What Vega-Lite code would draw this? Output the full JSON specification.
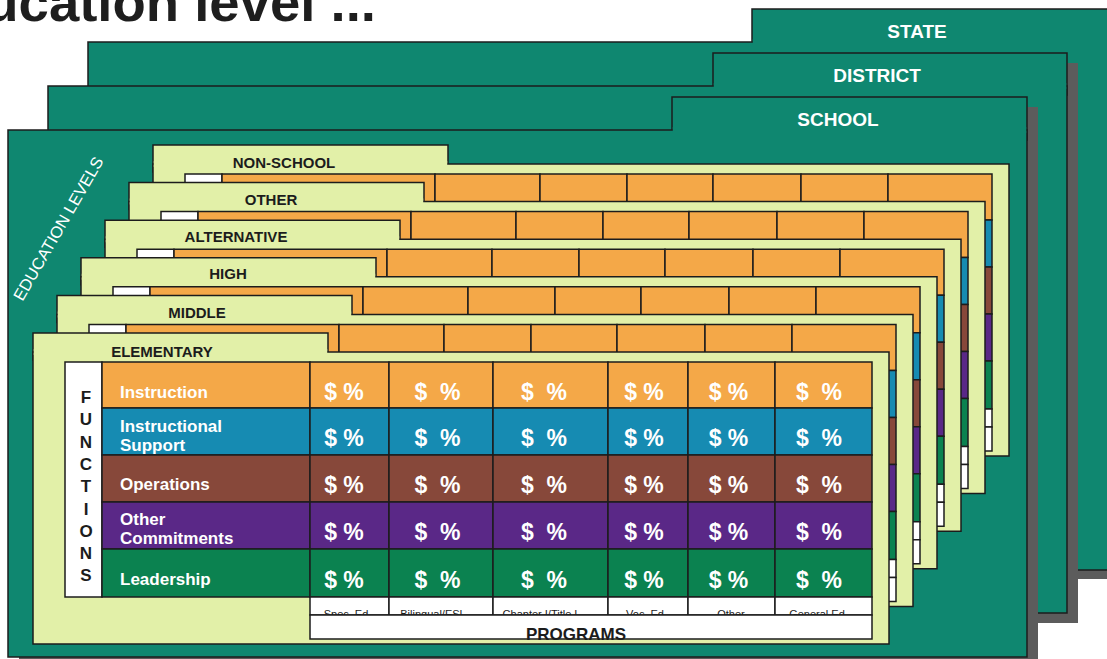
{
"$schema": "https://vega.github.io/schema/vega-lite/v6.json",
"width": 1107, "height": 659, "padding": 0, "autosize": {"type": "none"},
"background": "white",
"config": {"view": {"stroke": null}, "text": {"font": "Liberation Sans"}},
"encoding": {
  "x": {"field": "x", "type": "quantitative", "scale": {"domain": [0, 1107], "nice": false, "zero": false}, "axis": null},
  "y": {"field": "y", "type": "quantitative", "scale": {"domain": [0, 659], "nice": false, "zero": false, "reverse": true}, "axis": null}
},
"layer": [
{
  "data": {"values": [
    {"x":763,"x2":1131,"y":18,"y2":59,"c":"shadow","o":"n"},
    {"x":99,"x2":1131,"y":51,"y2":579,"c":"shadow","o":"n"},
    {"x":752,"x2":1120,"y":9,"y2":50,"c":"teal","o":"s"},
    {"x":88,"x2":1120,"y":42,"y2":570,"c":"teal","o":"s"},
    {"x":752.8,"x2":1119,"y":39,"y2":45,"c":"teal","o":"n"},
    {"x":724,"x2":1078,"y":63,"y2":105,"c":"shadow","o":"n"},
    {"x":59,"x2":1078,"y":96,"y2":623,"c":"shadow","o":"n"},
    {"x":713,"x2":1067,"y":53,"y2":95,"c":"teal","o":"s"},
    {"x":48,"x2":1067,"y":86,"y2":613,"c":"teal","o":"s"},
    {"x":713.8,"x2":1066.2,"y":83,"y2":89,"c":"teal","o":"n"},
    {"x":683,"x2":1038,"y":107,"y2":150,"c":"shadow","o":"n"},
    {"x":19,"x2":1038,"y":140,"y2":668,"c":"shadow","o":"n"},
    {"x":672,"x2":1027,"y":97,"y2":140,"c":"teal","o":"s"},
    {"x":8,"x2":1027,"y":130,"y2":657,"c":"teal","o":"s"},
    {"x":672.8,"x2":1026.2,"y":127,"y2":133,"c":"teal","o":"n"},

    {"x":153,"x2":448,"y":145,"y2":172,"c":"card","o":"s"},
    {"x":153,"x2":1009,"y":164,"y2":456,"c":"card","o":"s"},
    {"x":153.8,"x2":447.2,"y":161,"y2":167,"c":"card","o":"n"},
    {"x":185,"x2":222,"y":174,"y2":409,"c":"white","o":"s"},
    {"x":222,"x2":435,"y":174,"y2":220,"c":"orange","o":"s"},
    {"x":435,"x2":540,"y":174,"y2":220,"c":"orange","o":"s"},
    {"x":540,"x2":627,"y":174,"y2":220,"c":"orange","o":"s"},
    {"x":627,"x2":713,"y":174,"y2":220,"c":"orange","o":"s"},
    {"x":713,"x2":801,"y":174,"y2":220,"c":"orange","o":"s"},
    {"x":801,"x2":888,"y":174,"y2":220,"c":"orange","o":"s"},
    {"x":888,"x2":992,"y":174,"y2":220,"c":"orange","o":"s"},
    {"x":222,"x2":992,"y":220,"y2":267,"c":"blue","o":"s"},
    {"x":222,"x2":992,"y":267,"y2":314,"c":"brown","o":"s"},
    {"x":222,"x2":992,"y":314,"y2":361,"c":"purple","o":"s"},
    {"x":222,"x2":992,"y":361,"y2":409,"c":"green","o":"s"},
    {"x":435,"x2":992,"y":409,"y2":427,"c":"white","o":"s"},
    {"x":435,"x2":992,"y":427,"y2":451,"c":"white","o":"s"},

    {"x":129,"x2":424,"y":182.6,"y2":209.6,"c":"card","o":"s"},
    {"x":129,"x2":985,"y":201.6,"y2":493.6,"c":"card","o":"s"},
    {"x":129.8,"x2":423.2,"y":198.6,"y2":204.6,"c":"card","o":"n"},
    {"x":161,"x2":198,"y":211.6,"y2":446.6,"c":"white","o":"s"},
    {"x":198,"x2":411,"y":211.6,"y2":257.6,"c":"orange","o":"s"},
    {"x":411,"x2":516,"y":211.6,"y2":257.6,"c":"orange","o":"s"},
    {"x":516,"x2":603,"y":211.6,"y2":257.6,"c":"orange","o":"s"},
    {"x":603,"x2":689,"y":211.6,"y2":257.6,"c":"orange","o":"s"},
    {"x":689,"x2":777,"y":211.6,"y2":257.6,"c":"orange","o":"s"},
    {"x":777,"x2":864,"y":211.6,"y2":257.6,"c":"orange","o":"s"},
    {"x":864,"x2":968,"y":211.6,"y2":257.6,"c":"orange","o":"s"},
    {"x":198,"x2":968,"y":257.6,"y2":304.6,"c":"blue","o":"s"},
    {"x":198,"x2":968,"y":304.6,"y2":351.6,"c":"brown","o":"s"},
    {"x":198,"x2":968,"y":351.6,"y2":398.6,"c":"purple","o":"s"},
    {"x":198,"x2":968,"y":398.6,"y2":446.6,"c":"green","o":"s"},
    {"x":411,"x2":968,"y":446.6,"y2":464.6,"c":"white","o":"s"},
    {"x":411,"x2":968,"y":464.6,"y2":488.6,"c":"white","o":"s"},

    {"x":105,"x2":400,"y":220.2,"y2":247.2,"c":"card","o":"s"},
    {"x":105,"x2":961,"y":239.2,"y2":531.2,"c":"card","o":"s"},
    {"x":105.8,"x2":399.2,"y":236.2,"y2":242.2,"c":"card","o":"n"},
    {"x":137,"x2":174,"y":249.2,"y2":484.2,"c":"white","o":"s"},
    {"x":174,"x2":387,"y":249.2,"y2":295.2,"c":"orange","o":"s"},
    {"x":387,"x2":492,"y":249.2,"y2":295.2,"c":"orange","o":"s"},
    {"x":492,"x2":579,"y":249.2,"y2":295.2,"c":"orange","o":"s"},
    {"x":579,"x2":665,"y":249.2,"y2":295.2,"c":"orange","o":"s"},
    {"x":665,"x2":753,"y":249.2,"y2":295.2,"c":"orange","o":"s"},
    {"x":753,"x2":840,"y":249.2,"y2":295.2,"c":"orange","o":"s"},
    {"x":840,"x2":944,"y":249.2,"y2":295.2,"c":"orange","o":"s"},
    {"x":174,"x2":944,"y":295.2,"y2":342.2,"c":"blue","o":"s"},
    {"x":174,"x2":944,"y":342.2,"y2":389.2,"c":"brown","o":"s"},
    {"x":174,"x2":944,"y":389.2,"y2":436.2,"c":"purple","o":"s"},
    {"x":174,"x2":944,"y":436.2,"y2":484.2,"c":"green","o":"s"},
    {"x":387,"x2":944,"y":484.2,"y2":502.2,"c":"white","o":"s"},
    {"x":387,"x2":944,"y":502.2,"y2":526.2,"c":"white","o":"s"},

    {"x":81,"x2":376,"y":257.8,"y2":284.8,"c":"card","o":"s"},
    {"x":81,"x2":937,"y":276.8,"y2":568.8,"c":"card","o":"s"},
    {"x":81.8,"x2":375.2,"y":273.8,"y2":279.8,"c":"card","o":"n"},
    {"x":113,"x2":150,"y":286.8,"y2":521.8,"c":"white","o":"s"},
    {"x":150,"x2":363,"y":286.8,"y2":332.8,"c":"orange","o":"s"},
    {"x":363,"x2":468,"y":286.8,"y2":332.8,"c":"orange","o":"s"},
    {"x":468,"x2":555,"y":286.8,"y2":332.8,"c":"orange","o":"s"},
    {"x":555,"x2":641,"y":286.8,"y2":332.8,"c":"orange","o":"s"},
    {"x":641,"x2":729,"y":286.8,"y2":332.8,"c":"orange","o":"s"},
    {"x":729,"x2":816,"y":286.8,"y2":332.8,"c":"orange","o":"s"},
    {"x":816,"x2":920,"y":286.8,"y2":332.8,"c":"orange","o":"s"},
    {"x":150,"x2":920,"y":332.8,"y2":379.8,"c":"blue","o":"s"},
    {"x":150,"x2":920,"y":379.8,"y2":426.8,"c":"brown","o":"s"},
    {"x":150,"x2":920,"y":426.8,"y2":473.8,"c":"purple","o":"s"},
    {"x":150,"x2":920,"y":473.8,"y2":521.8,"c":"green","o":"s"},
    {"x":363,"x2":920,"y":521.8,"y2":539.8,"c":"white","o":"s"},
    {"x":363,"x2":920,"y":539.8,"y2":563.8,"c":"white","o":"s"},

    {"x":57,"x2":352,"y":295.4,"y2":322.4,"c":"card","o":"s"},
    {"x":57,"x2":913,"y":314.4,"y2":606.4,"c":"card","o":"s"},
    {"x":57.8,"x2":351.2,"y":311.4,"y2":317.4,"c":"card","o":"n"},
    {"x":89,"x2":126,"y":324.4,"y2":559.4,"c":"white","o":"s"},
    {"x":126,"x2":339,"y":324.4,"y2":370.4,"c":"orange","o":"s"},
    {"x":339,"x2":444,"y":324.4,"y2":370.4,"c":"orange","o":"s"},
    {"x":444,"x2":531,"y":324.4,"y2":370.4,"c":"orange","o":"s"},
    {"x":531,"x2":617,"y":324.4,"y2":370.4,"c":"orange","o":"s"},
    {"x":617,"x2":705,"y":324.4,"y2":370.4,"c":"orange","o":"s"},
    {"x":705,"x2":792,"y":324.4,"y2":370.4,"c":"orange","o":"s"},
    {"x":792,"x2":896,"y":324.4,"y2":370.4,"c":"orange","o":"s"},
    {"x":126,"x2":896,"y":370.4,"y2":417.4,"c":"blue","o":"s"},
    {"x":126,"x2":896,"y":417.4,"y2":464.4,"c":"brown","o":"s"},
    {"x":126,"x2":896,"y":464.4,"y2":511.4,"c":"purple","o":"s"},
    {"x":126,"x2":896,"y":511.4,"y2":559.4,"c":"green","o":"s"},
    {"x":339,"x2":896,"y":559.4,"y2":577.4,"c":"white","o":"s"},
    {"x":339,"x2":896,"y":577.4,"y2":601.4,"c":"white","o":"s"},

    {"x":33,"x2":328,"y":333,"y2":360,"c":"card","o":"s"},
    {"x":33,"x2":889,"y":352,"y2":644,"c":"card","o":"s"},
    {"x":33.8,"x2":327.2,"y":349,"y2":355,"c":"card","o":"n"},
    {"x":65,"x2":102,"y":362,"y2":597,"c":"white","o":"s"},
    {"x":102,"x2":310,"y":362,"y2":408,"c":"orange","o":"s"},
    {"x":310,"x2":389,"y":362,"y2":408,"c":"orange","o":"s"},
    {"x":389,"x2":493,"y":362,"y2":408,"c":"orange","o":"s"},
    {"x":493,"x2":608,"y":362,"y2":408,"c":"orange","o":"s"},
    {"x":608,"x2":688,"y":362,"y2":408,"c":"orange","o":"s"},
    {"x":688,"x2":775,"y":362,"y2":408,"c":"orange","o":"s"},
    {"x":775,"x2":872,"y":362,"y2":408,"c":"orange","o":"s"},
    {"x":102,"x2":310,"y":408,"y2":455,"c":"blue","o":"s"},
    {"x":310,"x2":389,"y":408,"y2":455,"c":"blue","o":"s"},
    {"x":389,"x2":493,"y":408,"y2":455,"c":"blue","o":"s"},
    {"x":493,"x2":608,"y":408,"y2":455,"c":"blue","o":"s"},
    {"x":608,"x2":688,"y":408,"y2":455,"c":"blue","o":"s"},
    {"x":688,"x2":775,"y":408,"y2":455,"c":"blue","o":"s"},
    {"x":775,"x2":872,"y":408,"y2":455,"c":"blue","o":"s"},
    {"x":102,"x2":310,"y":455,"y2":502,"c":"brown","o":"s"},
    {"x":310,"x2":389,"y":455,"y2":502,"c":"brown","o":"s"},
    {"x":389,"x2":493,"y":455,"y2":502,"c":"brown","o":"s"},
    {"x":493,"x2":608,"y":455,"y2":502,"c":"brown","o":"s"},
    {"x":608,"x2":688,"y":455,"y2":502,"c":"brown","o":"s"},
    {"x":688,"x2":775,"y":455,"y2":502,"c":"brown","o":"s"},
    {"x":775,"x2":872,"y":455,"y2":502,"c":"brown","o":"s"},
    {"x":102,"x2":310,"y":502,"y2":549,"c":"purple","o":"s"},
    {"x":310,"x2":389,"y":502,"y2":549,"c":"purple","o":"s"},
    {"x":389,"x2":493,"y":502,"y2":549,"c":"purple","o":"s"},
    {"x":493,"x2":608,"y":502,"y2":549,"c":"purple","o":"s"},
    {"x":608,"x2":688,"y":502,"y2":549,"c":"purple","o":"s"},
    {"x":688,"x2":775,"y":502,"y2":549,"c":"purple","o":"s"},
    {"x":775,"x2":872,"y":502,"y2":549,"c":"purple","o":"s"},
    {"x":102,"x2":310,"y":549,"y2":597,"c":"green","o":"s"},
    {"x":310,"x2":389,"y":549,"y2":597,"c":"green","o":"s"},
    {"x":389,"x2":493,"y":549,"y2":597,"c":"green","o":"s"},
    {"x":493,"x2":608,"y":549,"y2":597,"c":"green","o":"s"},
    {"x":608,"x2":688,"y":549,"y2":597,"c":"green","o":"s"},
    {"x":688,"x2":775,"y":549,"y2":597,"c":"green","o":"s"},
    {"x":775,"x2":872,"y":549,"y2":597,"c":"green","o":"s"},
    {"x":310,"x2":389,"y":597,"y2":615,"c":"white","o":"s"},
    {"x":389,"x2":493,"y":597,"y2":615,"c":"white","o":"s"},
    {"x":493,"x2":608,"y":597,"y2":615,"c":"white","o":"s"},
    {"x":608,"x2":688,"y":597,"y2":615,"c":"white","o":"s"},
    {"x":688,"x2":775,"y":597,"y2":615,"c":"white","o":"s"},
    {"x":775,"x2":872,"y":597,"y2":615,"c":"white","o":"s"}
  ]},
  "mark": {"type": "rect", "strokeWidth": 1.5},
  "encoding": {
    "x2": {"field": "x2"}, "y2": {"field": "y2"},
    "fill": {"field": "c", "type": "nominal", "legend": null, "scale": {"domain": ["shadow","teal","card","white","orange","blue","brown","purple","green"], "range": ["#5c5c5c","#0f8770","#e2f0a8","#ffffff","#f4a848","#168bb2","#87483a","#5a2887","#0b8250"]}},
    "stroke": {"field": "o", "type": "nominal", "legend": null, "scale": {"domain": ["s","n"], "range": ["#1c1c1c","transparent"]}}
  }
},
{
  "data": {"values": [
    {"t":"Spec. Ed","x":346,"y":617.5},
    {"t":"Bilingual/ESL","x":433,"y":617.5},
    {"t":"Chapter I/Title I","x":540,"y":617.5},
    {"t":"Voc. Ed","x":645,"y":617.5},
    {"t":"Other","x":731,"y":617.5},
    {"t":"General Ed","x":817,"y":617.5}
  ]},
  "mark": {"type": "text", "fontSize": 11, "align": "center", "baseline": "alphabetic", "color": "#1c1c1c"},
  "encoding": {"text": {"field": "t"}}
},
{
  "data": {"values": [{"x":310,"x2":872,"y":615,"y2":639}]},
  "mark": {"type": "rect", "fill": "#ffffff", "stroke": "#1c1c1c", "strokeWidth": 1.5},
  "encoding": {"x2": {"field": "x2"}, "y2": {"field": "y2"}}
},
{
  "data": {"values": [{"t":"PROGRAMS","x":576,"y":639.5}]},
  "mark": {"type": "text", "fontSize": 17, "fontWeight": "bold", "align": "center", "baseline": "alphabetic", "color": "#1c1c1c"},
  "encoding": {"text": {"field": "t"}}
},
{
  "data": {"values": [{"t":"Education level ...","x":376,"y":21}]},
  "mark": {"type": "text", "fontSize": 54.5, "fontWeight": "bold", "align": "right", "baseline": "alphabetic", "color": "#1e1e1e"},
  "encoding": {"text": {"field": "t"}}
},
{
  "data": {"values": [
    {"t":"STATE","x":917,"y":37.5},
    {"t":"DISTRICT","x":877,"y":82},
    {"t":"SCHOOL","x":838,"y":126}
  ]},
  "mark": {"type": "text", "fontSize": 19, "fontWeight": "bold", "align": "center", "baseline": "alphabetic", "color": "#ffffff"},
  "encoding": {"text": {"field": "t"}}
},
{
  "data": {"values": [{"t":"EDUCATION LEVELS","x":59,"y":229}]},
  "mark": {"type": "text", "fontSize": 16.5, "angle": -60, "align": "center", "baseline": "middle", "color": "#ffffff"},
  "encoding": {"text": {"field": "t"}}
},
{
  "data": {"values": [
    {"t":"NON-SCHOOL","x":284,"y":168},
    {"t":"OTHER","x":271,"y":205},
    {"t":"ALTERNATIVE","x":236,"y":242},
    {"t":"HIGH","x":228,"y":279},
    {"t":"MIDDLE","x":197,"y":318},
    {"t":"ELEMENTARY","x":162,"y":356.5}
  ]},
  "mark": {"type": "text", "fontSize": 15, "fontWeight": "bold", "align": "center", "baseline": "alphabetic", "color": "#1c1c1c"},
  "encoding": {"text": {"field": "t"}}
},
{
  "data": {"values": [{"t":"F\nU\nN\nC\nT\nI\nO\nN\nS","x":86,"y":403}]},
  "mark": {"type": "text", "fontSize": 17, "fontWeight": "bold", "align": "center", "baseline": "alphabetic", "lineBreak": "\n", "lineHeight": 22.3, "color": "#1c1c1c"},
  "encoding": {"text": {"field": "t"}}
},
{
  "data": {"values": [
    {"t":"Instruction","x":120,"y":397.5},
    {"t":"Instructional\nSupport","x":120,"y":432},
    {"t":"Operations","x":120,"y":490},
    {"t":"Other\nCommitments","x":120,"y":525},
    {"t":"Leadership","x":120,"y":585}
  ]},
  "mark": {"type": "text", "fontSize": 17, "fontWeight": "bold", "align": "left", "baseline": "alphabetic", "lineBreak": "\n", "lineHeight": 18.5, "color": "#ffffff"},
  "encoding": {"text": {"field": "t"}}
},
{
  "data": {"values": [
    {"t":"$ %","x":344,"y":399.5},{"t":"$\u00a0 %","x":437.5,"y":399.5},{"t":"$\u00a0 %","x":544,"y":399.5},{"t":"$ %","x":644,"y":399.5},{"t":"$ %","x":728.5,"y":399.5},{"t":"$\u00a0 %","x":819,"y":399.5},
    {"t":"$ %","x":344,"y":446},{"t":"$\u00a0 %","x":437.5,"y":446},{"t":"$\u00a0 %","x":544,"y":446},{"t":"$ %","x":644,"y":446},{"t":"$ %","x":728.5,"y":446},{"t":"$\u00a0 %","x":819,"y":446},
    {"t":"$ %","x":344,"y":493},{"t":"$\u00a0 %","x":437.5,"y":493},{"t":"$\u00a0 %","x":544,"y":493},{"t":"$ %","x":644,"y":493},{"t":"$ %","x":728.5,"y":493},{"t":"$\u00a0 %","x":819,"y":493},
    {"t":"$ %","x":344,"y":540},{"t":"$\u00a0 %","x":437.5,"y":540},{"t":"$\u00a0 %","x":544,"y":540},{"t":"$ %","x":644,"y":540},{"t":"$ %","x":728.5,"y":540},{"t":"$\u00a0 %","x":819,"y":540},
    {"t":"$ %","x":344,"y":587.5},{"t":"$\u00a0 %","x":437.5,"y":587.5},{"t":"$\u00a0 %","x":544,"y":587.5},{"t":"$ %","x":644,"y":587.5},{"t":"$ %","x":728.5,"y":587.5},{"t":"$\u00a0 %","x":819,"y":587.5}
  ]},
  "mark": {"type": "text", "fontSize": 23, "fontWeight": "bold", "align": "center", "baseline": "alphabetic", "color": "#ffffff"},
  "encoding": {"text": {"field": "t"}}
}
]
}
